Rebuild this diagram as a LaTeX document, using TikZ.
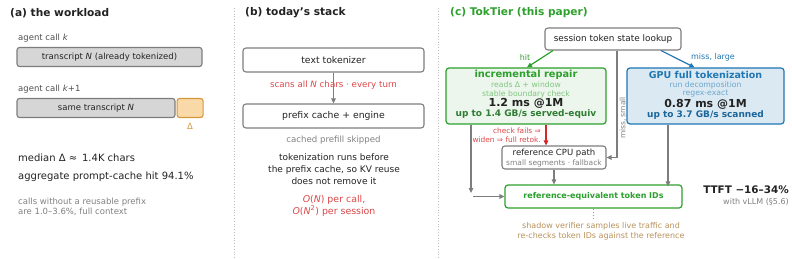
\documentclass[tikz,border=0pt]{standalone}
\usepackage{fontspec}
\setmainfont{DejaVu Sans}
\usetikzlibrary{arrows.meta,positioning}
\definecolor{inkdark}{RGB}{34,34,34}
\definecolor{muted}{RGB}{128,128,128}
\definecolor{linegray}{RGB}{125,125,125}
\definecolor{bargray}{RGB}{214,214,214}
\definecolor{tkgreen}{RGB}{44,160,44}
\definecolor{tkgreendark}{RGB}{46,125,50}
\definecolor{tkblue}{RGB}{31,119,180}
\definecolor{tkred}{RGB}{214,39,40}
\definecolor{tkorange}{RGB}{212,150,60}
\definecolor{deltafill}{RGB}{250,217,168}
\definecolor{tktan}{RGB}{184,145,90}

\begin{document}
\begin{tikzpicture}[x=1pt, y=-1pt,
  paneltitle/.style={anchor=west, inner sep=0pt, text=inkdark,
                     font=\fontsize{10.6}{12}\selectfont\bfseries},
  note/.style={inner sep=0pt, text=inkdark, font=\fontsize{8.5}{10}\selectfont},
  stat/.style={anchor=west, inner sep=0pt, text=inkdark,
               font=\fontsize{10}{12}\selectfont},
  body/.style={inner sep=0pt, text=inkdark, align=center,
               font=\fontsize{9}{12.3}\selectfont},
  small/.style={inner sep=0pt, font=\fontsize{7.7}{9.5}\selectfont},
  bar/.style={draw=linegray, fill=bargray, rounded corners=2.5pt, line width=1.1pt,
              minimum height=19, inner sep=0pt, text=inkdark,
              font=\fontsize{8.5}{10}\selectfont},
  deltabox/.style={draw=tkorange, fill=deltafill, rounded corners=2.5pt,
                   line width=1.1pt, minimum height=19, minimum width=26},
  stackbox/.style={draw=linegray, fill=white, rounded corners=3pt, line width=1.1pt,
                   minimum width=181, minimum height=24, text=inkdark,
                   font=\fontsize{9.3}{11}\selectfont},
  tierbox/.style={rounded corners=3pt, line width=1.2pt,
                  minimum width=158, minimum height=56},
  flow/.style={-{Triangle[length=5pt,width=4.5pt]}, line width=1.2pt, draw=linegray},
  sep/.style={dotted, draw=gray!50, line width=0.8pt}
]
\useasboundingbox (0,0) rectangle (792,259);

% separators
\draw[sep] (234,8) -- (234,259);
\draw[sep] (438,8) -- (438,259);

% (a) workload
\node[paneltitle] (ta) at (10,13) {(a) the workload};
\node[note, anchor=west, text=inkdark!80] (callk) at (18,38) {agent call \textit{k}};
\node[bar, minimum width=185] (full) at (109.5,57) {transcript \textit{N} (already tokenized)};
\node[note, anchor=west, text=inkdark!80] (callk1) at (18,89) {agent call \textit{k}+1};
\node[bar, minimum width=158] (same) at (96,108) {same transcript \textit{N}};
\node[deltabox, right=1pt of same] (delta) {};
\node[note, text=tkorange, below=5pt of delta] (dlabel) {Δ};
\node[stat] (median) at (18,158) {median Δ ≈\ \,1.4K chars};
\node[stat] (hit) at (18,177) {aggregate prompt-cache hit 94.1\%};
\node[inner sep=0pt, anchor=west, align=left, text=muted,
      font=\fontsize{8.5}{10.5}\selectfont] (nopre) at (18,207)
      {calls without a reusable prefix\\are 1.0–3.6\%, full context};

% (b) today's stack
\node[paneltitle] (tb) at (245,13) {(b) today's stack};
\node[stackbox] (tok) at (333.5,60) {text tokenizer};
\node[stackbox] (pre) at (333.5,116) {prefix cache + engine};
\node[inner sep=0pt, text=tkred!85, font=\fontsize{8.7}{10}\selectfont]
      (scan) at (333.5,85) {scans all \textit{N} chars · every turn};
\draw[flow] (tok) -- (pre);
\node[inner sep=0pt, text=muted, font=\fontsize{8.6}{10}\selectfont]
      (skip) at (333.5,140) {cached prefill skipped};
\node[body] (why) at (334,169) {tokenization runs before\\the prefix cache, so KV reuse\\does not remove it};
\node[body, text=tkred!85, font=\fontsize{9.4}{12}\selectfont] (cost) at (334,206)
      {\textit{O}(\textit{N}) per call,\\\textit{O}(\textit{N}\textsuperscript{2}) per session};

% (c) TokTier
\node[paneltitle, text=tkgreen] (tc) at (450,13) {(c) TokTier (this paper)};
\node[stackbox, minimum width=136, minimum height=22, font=\fontsize{8.9}{10}\selectfont]
      (look) at (613,39) {session token state lookup};

\node[tierbox, draw=tkgreen, fill=tkgreen!9, minimum width=160] (rep) at (526,96) {};
\node[inner sep=0pt, text=tkgreen, font=\fontsize{9.8}{11}\selectfont\bfseries] at (526,75) {incremental repair};
\node[small, text=tkgreen!60] at (526,85) {reads Δ + window};
\node[small, text=tkgreen!60] at (526,94) {stable boundary check};
\node[inner sep=0pt, text=inkdark, font=\fontsize{11}{12}\selectfont\bfseries] at (526,103.5) {1.2 ms @1M};
\node[inner sep=0pt, text=tkgreendark, font=\fontsize{9}{10}\selectfont\bfseries] at (526,114.5) {up to 1.4 GB/s served-equiv};

\node[tierbox, draw=tkblue, fill=tkblue!16, minimum width=157] (gpu) at (705.5,96) {};
\node[inner sep=0pt, text=tkblue, font=\fontsize{9.5}{11}\selectfont\bfseries] at (705.5,75) {GPU full tokenization};
\node[small, text=tkblue!65] at (705.5,85) {run decomposition};
\node[small, text=tkblue!65] at (705.5,94) {regex-exact};
\node[inner sep=0pt, text=inkdark, font=\fontsize{11}{12}\selectfont\bfseries] at (705.5,104) {0.87 ms @1M};
\node[inner sep=0pt, text=tkblue!85!black, font=\fontsize{9}{10}\selectfont\bfseries] at (705.5,115) {up to 3.7 GB/s scanned};

\node[stackbox, minimum width=104, minimum height=23] (cpu) at (554,157.5) {};
\node[inner sep=0pt, text=inkdark, font=\fontsize{8.5}{10}\selectfont] at (554,153) {reference CPU path};
\node[inner sep=0pt, text=muted, font=\fontsize{7.5}{9}\selectfont] at (554,163) {small segments · fallback};

\node[stackbox, draw=tkgreen, line width=1.2pt, minimum width=177, minimum height=23,
      text=tkgreen, font=\fontsize{8}{10}\selectfont\bfseries] (eq) at (593.5,196.5)
      {reference-equivalent token IDs};

% routes
\draw[flow, draw=tkgreen] ([xshift=-60]look.south) -- ([xshift=1]rep.north);
\node[note, text=tkgreen, font=\fontsize{8}{10}\selectfont] (hitlbl) at (525,57) {hit};
\draw[flow, draw=tkblue] ([xshift=48]look.south) -- ([xshift=-11]gpu.north);
\node[note, text=tkblue, font=\fontsize{8}{10}\selectfont] (misslbl) at (713,57) {miss, large};
\draw[flow] ([xshift=4]look.south) |- (cpu.east);
\node[inner sep=0pt, rotate=90, text=muted, font=\fontsize{7.5}{9}\selectfont] (smalllbl) at (623,118) {miss, small};
\draw[flow, draw=tkred] ([xshift=20]rep.south) -- ([xshift=-8]cpu.north);
\node[inner sep=0pt, anchor=east, align=right, text=tkred!85,
      font=\fontsize{7.4}{9}\selectfont] (retok) at (541,135.5) {check fails ⇒\\widen ⇒ full retok.};
\coordinate (dropend) at (471,193);
\coordinate (feed) at (473,196.5);
\draw[flow] ([xshift=-55]rep.south) -- (dropend);
\draw[flow] (feed) -- (eq.west);
\draw[flow] (cpu.south) -- (cpu.south |- eq.north);
\draw[flow] ([xshift=-37.5]gpu.south) -- ([xshift=-37.5,yshift=-2]gpu.south |- eq.north);

% shadow verifier
\node[inner sep=0pt, align=center, text=tktan, font=\fontsize{8}{10}\selectfont]
      (shadow) at (601,231) {shadow verifier samples live traffic and\\re-checks token IDs against the reference};
\draw[dotted, draw=tktan, line width=1pt] (eq.south) -- ([yshift=2]eq.south |- shadow.north);

% result
\node[inner sep=0pt, anchor=east, text=inkdark, font=\fontsize{10.4}{12}\selectfont\bfseries]
      (ttft) at (789,190) {TTFT −16–34\%};
\node[inner sep=0pt, anchor=east, text=muted, font=\fontsize{8}{10}\selectfont]
      (vllm) at (789,201.5) {with vLLM (§5.6)};

\end{tikzpicture}
\end{document}
